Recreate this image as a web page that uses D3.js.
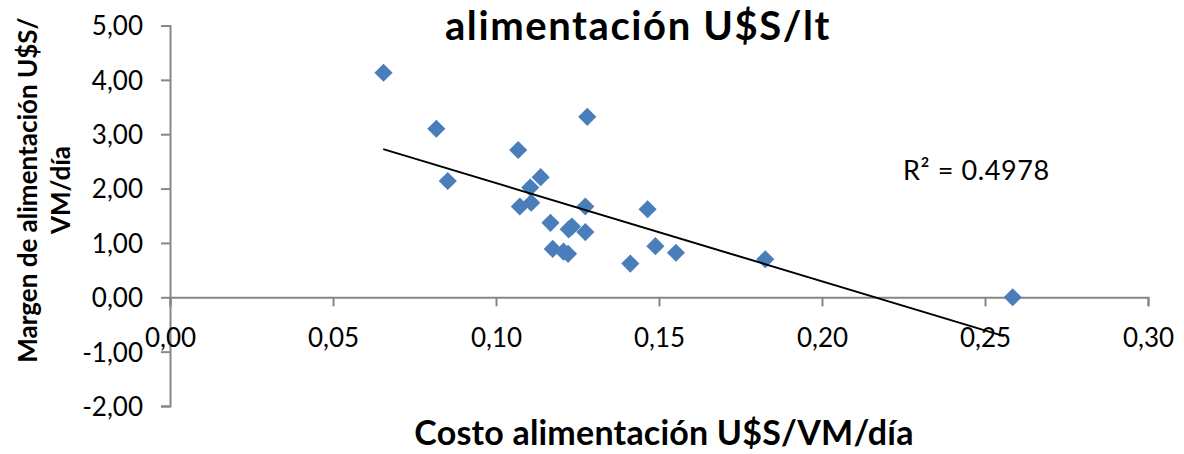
<!DOCTYPE html>
<html>
<head>
<meta charset="utf-8">
<script src="https://cdn.jsdelivr.net/npm/d3@7"></script>
<style>
  html, body { margin: 0; padding: 0; background: #fff; }
  svg { display: block; }
  text { font-family: Lato, "Open Sans", sans-serif; fill: #000; }
</style>
</head>
<body>
<svg id="chart" width="1184" height="454"></svg>
<script>
// Costo de alimentación (U$S/VM/día) vs margen de alimentación (U$S/VM/día)
const costo = [0.0655, 0.0817, 0.0852, 0.1068, 0.1137, 0.1105, 0.1108, 0.1073,
               0.1280, 0.1274, 0.1167, 0.1223, 0.1233, 0.1274, 0.1174, 0.1207,
               0.1221, 0.1465, 0.1489, 0.1552, 0.1412, 0.1826, 0.2585];
const margen = [4.13, 3.10, 2.14, 2.71, 2.21, 2.02, 1.74, 1.67,
                3.32, 1.67, 1.37, 1.25, 1.30, 1.20, 0.89, 0.84,
                0.80, 1.62, 0.94, 0.82, 0.62, 0.70, 0.00];

// Linear trend line
const trendIntercept = 3.908;
const trendSlope = -18.07;
const trendRange = [0.0654, 0.2558];
const rSquared = "0.4978";

const xTicks = [0, 0.05, 0.10, 0.15, 0.20, 0.25, 0.30];
const yTicks = [-2, -1, 0, 1, 2, 3, 4, 5];

const svg = d3.select("#chart");
const x = d3.scaleLinear().domain([0, 0.30]).range([170, 1148]);
const y = d3.scaleLinear().domain([-2, 5]).range([406, 25.5]);
// Spanish decimal comma and a plain hyphen for negatives
const fmt = v => d3.format(".2f")(v).replace(".", ",").replace("\u2212", "-");
const axisColor = "#868686";

// Y axis
const yAxis = svg.append("g")
  .attr("transform", `translate(${x(0)},0)`)
  .call(d3.axisLeft(y).tickValues(yTicks).tickFormat(fmt).tickSize(9).tickPadding(18));
yAxis.select(".domain").attr("stroke", axisColor).attr("stroke-width", 2);
yAxis.selectAll(".tick line").attr("stroke", axisColor).attr("stroke-width", 2);
yAxis.selectAll(".tick text").style("font-size", "26px").attr("dy", "0.36em")
  .style("font-family", "Lato, sans-serif");

// X axis at y = 0
const xAxis = svg.append("g")
  .attr("transform", `translate(0,${y(0)})`)
  .call(d3.axisBottom(x).tickValues(xTicks).tickFormat(fmt).tickSize(9).tickPadding(22));
xAxis.select(".domain").attr("stroke", axisColor).attr("stroke-width", 2);
xAxis.selectAll(".tick line").attr("stroke", axisColor).attr("stroke-width", 2);
xAxis.selectAll(".tick text").style("font-size", "26px")
  .style("font-family", "Lato, sans-serif");

// Points
const diamond = d3.symbol().type(d3.symbolDiamond2).size(210);
svg.append("g").selectAll("path")
  .data(costo.map((c, i) => [c, margen[i]]))
  .join("path")
  .attr("d", diamond)
  .attr("transform", d => `translate(${x(d[0])},${y(d[1])})`)
  .attr("fill", "#4a7ebb");

// Trend line
svg.append("line")
  .attr("x1", x(trendRange[0])).attr("y1", y(trendIntercept + trendSlope * trendRange[0]))
  .attr("x2", x(trendRange[1])).attr("y2", y(trendIntercept + trendSlope * trendRange[1]))
  .attr("stroke", "#000").attr("stroke-width", 2);

// R² label
svg.append("text")
  .attr("x", 903).attr("y", 180)
  .style("font-size", "27px").style("letter-spacing", "0.6px")
  .text(`R² = ${rSquared}`);

// Title
svg.append("text")
  .attr("x", 638).attr("y", 40)
  .attr("text-anchor", "middle")
  .style("font-size", "40px").style("font-weight", "bold").style("letter-spacing", "1.6px")
  .text("alimentación U$S/lt");

// X axis title
svg.append("text")
  .attr("x", 664).attr("y", 445)
  .attr("text-anchor", "middle")
  .style("font-size", "34px").style("font-weight", "bold").style("letter-spacing", "0.2px")
  .text("Costo alimentación U$S/VM/día");

// Y axis title
const yTitle = svg.append("text")
  .attr("transform", "translate(0,190) rotate(-90)")
  .attr("text-anchor", "middle")
  .style("font-size", "26px").style("font-weight", "bold");
yTitle.append("tspan").attr("x", 0).attr("y", 37).text("Margen de alimentación U$S/");
yTitle.append("tspan").attr("x", 0).attr("y", 70).text("VM/día");
</script>
</body>
</html>
